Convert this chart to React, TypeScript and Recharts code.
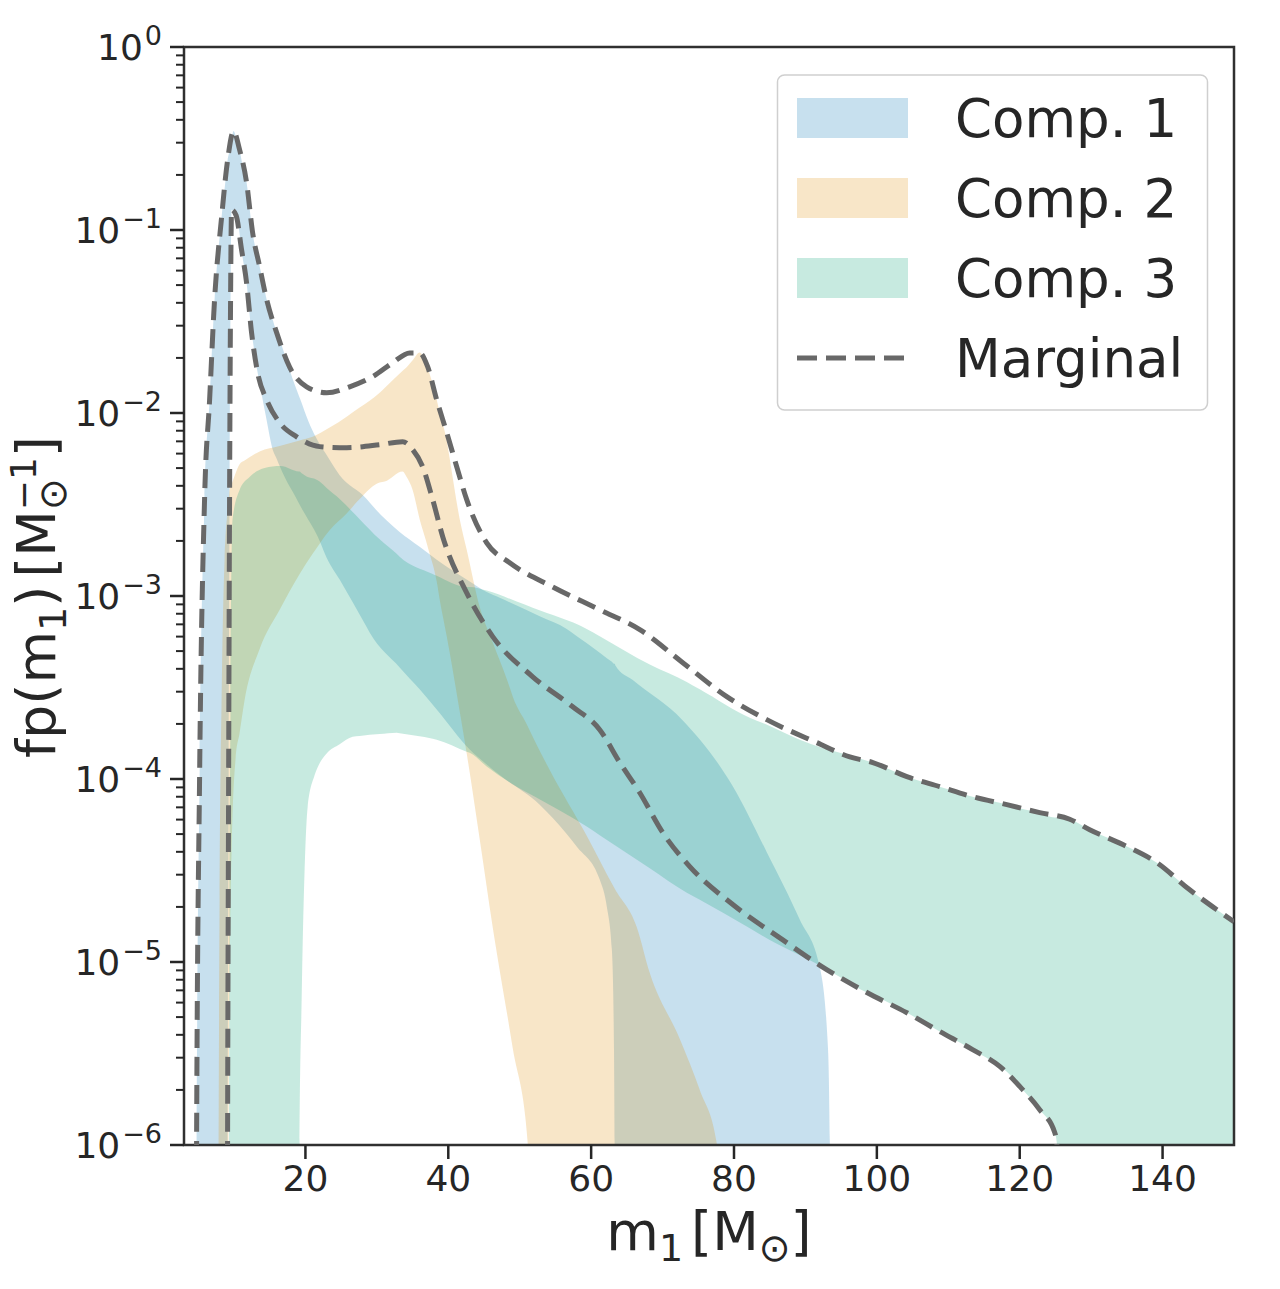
import React from "react";
import { ComposedChart, Area, Line, XAxis, YAxis, ReferenceArea } from "recharts";

const FONT = '"DejaVu Sans", "Liberation Sans", sans-serif';
const INK = "#262626";
const BLUE = "#0173b2";
const ORANGE = "#de8f05";
const TEAL = "#029e73";
const DASH = "#686868";

// m1 grids and band edges (lo / hi), one set per component
const comp1X = [4.7, 4.76, 5.18, 5.88, 6.58, 7.28, 8.26, 9.05, 9.1, 9.24, 9.38, 9.52, 9.66, 9.94, 10.5, 10.78, 11.06, 11.76, 12.46, 12.61, 13.31, 13.59, 14.15, 14.57, 15.41, 15.97, 16.39, 17.09, 18.49, 19.6, 19.89, 21.99, 22.97, 24.79, 28.57, 28.99, 33.19, 35.99, 38.38, 43.0, 45.38, 47.2, 52.8, 56.58, 58.0, 61.2, 62.2, 62.9, 63.2, 63.3, 63.4, 65.83, 72.83, 79.83, 84.59, 89.22, 92.02, 93.14, 93.42, 93.5];
const comp1Hi = [1e-7, 1e-6, 1e-4, 3.39e-3, 1.17e-2, 4.17e-2, 1.17e-1, 2.29e-1, 2.4e-1, 2.57e-1, 2.69e-1, 2.88e-1, 3.09e-1, 3.47e-1, 2.95e-1, 2.75e-1, 2.4e-1, 1.82e-1, 1.07e-1, 9.66e-2, 7.08e-2, 6.31e-2, 5.01e-2, 4.17e-2, 3.24e-2, 2.75e-2, 2.51e-2, 2.09e-2, 1.43e-2, 1.1e-2, 1.02e-2, 6.76e-3, 5.89e-3, 4.57e-3, 3.39e-3, 3.24e-3, 2.24e-3, 1.86e-3, 1.58e-3, 1.2e-3, 1.05e-3, 9.77e-4, 7.76e-4, 6.61e-4, 6.03e-4, 4.9e-4, 4.57e-4, 4.37e-4, 4.27e-4, 4.27e-4, 4.17e-4, 3.47e-4, 2.09e-4, 9.12e-5, 3.98e-5, 1.7e-5, 9.33e-6, 3.47e-6, 1.02e-6, 1e-7];
const comp1Lo = [1e-7, 1e-7, 1e-7, 1e-7, 1e-7, 1e-7, 1e-7, 1e-7, 1e-6, 7.94e-5, 3.39e-3, 4.17e-2, 1.29e-1, 1.26e-1, 1.15e-1, 9.55e-2, 7.76e-2, 5.13e-2, 2.75e-2, 2.51e-2, 1.66e-2, 1.45e-2, 1.11e-2, 9.12e-3, 6.31e-3, 5.62e-3, 5.13e-3, 4.47e-3, 3.55e-3, 2.95e-3, 2.82e-3, 2.0e-3, 1.62e-3, 1.23e-3, 6.76e-4, 6.31e-4, 4.07e-4, 3.09e-4, 2.4e-4, 1.45e-4, 1.2e-4, 1.05e-4, 7.24e-5, 5.01e-5, 4.27e-5, 2.82e-5, 2.0e-5, 1.17e-5, 3.31e-6, 1e-6, 1e-7, 1e-7, 1e-7, 1e-7, 1e-7, 1e-7, 1e-7, 1e-7, 1e-7, 1e-7];

const comp2X = [7.75, 7.84, 7.98, 8.26, 8.68, 9.18, 9.24, 9.38, 9.66, 10.22, 10.78, 11.48, 13.59, 16.39, 19.19, 21.01, 23.39, 25.77, 27.59, 30.39, 31.09, 33.61, 34.17, 35.01, 35.99, 36.97, 37.11, 38.38, 38.8, 39.78, 40.2, 41.6, 42.58, 44.4, 46.22, 48.6, 49.02, 51.12, 51.2, 54.2, 59.38, 63.31, 66.39, 68.21, 72.41, 75.21, 77.59, 77.7];
const comp2Hi = [1e-7, 1e-6, 2.19e-5, 2.69e-4, 1.58e-3, 3.02e-3, 3.16e-3, 3.8e-3, 4.07e-3, 4.68e-3, 5.25e-3, 5.5e-3, 6.17e-3, 6.61e-3, 7.08e-3, 7.41e-3, 8.32e-3, 9.55e-3, 1.07e-2, 1.29e-2, 1.37e-2, 1.7e-2, 1.78e-2, 1.94e-2, 2.14e-2, 1.82e-2, 1.76e-2, 1.18e-2, 1.0e-2, 7.08e-3, 5.62e-3, 2.63e-3, 1.79e-3, 8.71e-4, 5.58e-4, 3.16e-4, 2.82e-4, 1.94e-4, 1.91e-4, 1.12e-4, 4.9e-5, 2.51e-5, 1.55e-5, 8.71e-6, 3.8e-6, 2.0e-6, 1.02e-6, 1e-7];
const comp2Lo = [1e-7, 1e-7, 1e-7, 1e-7, 1e-7, 1e-7, 1e-6, 6.24e-6, 4.07e-5, 1.29e-4, 1.78e-4, 2.69e-4, 5.13e-4, 8.41e-4, 1.32e-3, 1.7e-3, 2.29e-3, 2.82e-3, 3.39e-3, 4.17e-3, 4.22e-3, 4.79e-3, 4.47e-3, 3.8e-3, 2.63e-3, 1.95e-3, 1.86e-3, 1.2e-3, 9.55e-4, 6.03e-4, 4.9e-4, 2.34e-4, 1.38e-4, 4.68e-5, 1.55e-5, 4.27e-6, 3.39e-6, 1.02e-6, 1e-7, 1e-7, 1e-7, 1e-7, 1e-7, 1e-7, 1e-7, 1e-7, 1e-7, 1e-7];

const comp3X = [9.25, 9.31, 9.38, 9.52, 9.8, 10.78, 12.18, 14.29, 16.53, 19.1, 19.19, 19.47, 19.89, 20.31, 21.29, 21.99, 22.97, 24.79, 26.61, 27.59, 30.39, 32.77, 33.19, 37.82, 38.38, 42.58, 43.0, 45.38, 49.58, 51.82, 59.38, 61.2, 68.21, 73.39, 75.21, 82.21, 85.01, 89.22, 92.3, 94.82, 98.6, 99.44, 104.2, 108.8, 113.4, 117.2, 118.2, 120.0, 122.8, 124.9, 125.2, 125.3, 127.0, 129.8, 134.5, 139.2, 143.8, 147.6, 150];
const comp3Hi = [1e-7, 1e-6, 2.19e-5, 2.69e-4, 2.63e-3, 3.8e-3, 4.47e-3, 5.01e-3, 5.13e-3, 4.79e-3, 4.79e-3, 4.68e-3, 4.57e-3, 4.47e-3, 4.37e-3, 4.22e-3, 3.89e-3, 3.39e-3, 2.88e-3, 2.63e-3, 2.04e-3, 1.7e-3, 1.64e-3, 1.32e-3, 1.29e-3, 1.12e-3, 1.12e-3, 1.07e-3, 9.33e-4, 8.63e-4, 6.61e-4, 6.03e-4, 4.22e-4, 3.39e-4, 3.09e-4, 2.16e-4, 1.95e-4, 1.64e-4, 1.48e-4, 1.39e-4, 1.26e-4, 1.23e-4, 1.03e-4, 9.08e-5, 8.0e-5, 7.41e-5, 7.24e-5, 6.92e-5, 6.55e-5, 6.17e-5, 6.17e-5, 6.17e-5, 6.03e-5, 5.28e-5, 4.37e-5, 3.49e-5, 2.48e-5, 1.93e-5, 1.66e-5];
const comp3Lo = [1e-7, 1e-7, 1e-7, 1e-7, 1e-7, 1e-7, 1e-7, 1e-7, 1e-7, 1e-7, 1e-6, 6.24e-6, 3.24e-5, 7.0e-5, 1.05e-4, 1.22e-4, 1.38e-4, 1.55e-4, 1.7e-4, 1.72e-4, 1.76e-4, 1.79e-4, 1.78e-4, 1.66e-4, 1.64e-4, 1.41e-4, 1.39e-4, 1.17e-4, 9.08e-5, 8.13e-5, 5.5e-5, 4.93e-5, 3.25e-5, 2.39e-5, 2.19e-5, 1.53e-5, 1.32e-5, 1.09e-5, 9.44e-6, 8.28e-6, 6.81e-6, 6.61e-6, 5.28e-6, 4.17e-6, 3.32e-6, 2.69e-6, 2.51e-6, 2.09e-6, 1.56e-6, 1.17e-6, 1.02e-6, 1e-7, 1e-7, 1e-7, 1e-7, 1e-7, 1e-7, 1e-7, 1e-7];

// marginal band, drawn as two dashed edges
const margHiX = [4.7, 4.76, 5.18, 5.88, 6.58, 7.28, 8.26, 9.1, 9.94, 10.78, 11.76, 12.61, 13.59, 14.57, 15.97, 17.79, 20.17, 22.97, 26.19, 29.41, 32.21, 34.59, 35.99, 37.11, 38.38, 39.78, 41.18, 42.58, 45.38, 48.6, 54.62, 61.2, 66.81, 72.83, 78.99, 84.59, 91.6, 96.22, 99.44, 104.2, 108.8, 113.4, 118.2, 122.8, 127.0, 129.8, 134.5, 139.2, 143.8, 147.6, 150];
const margHiY = [1e-7, 1e-6, 1e-4, 3.39e-3, 1.17e-2, 4.17e-2, 1.17e-1, 2.4e-1, 3.47e-1, 2.75e-1, 1.82e-1, 9.66e-2, 6.31e-2, 4.17e-2, 2.75e-2, 1.78e-2, 1.39e-2, 1.29e-2, 1.39e-2, 1.58e-2, 1.88e-2, 2.13e-2, 2.13e-2, 1.79e-2, 1.18e-2, 7.82e-3, 5.09e-3, 3.36e-3, 1.95e-3, 1.52e-3, 1.12e-3, 8.41e-4, 6.55e-4, 4.32e-4, 2.82e-4, 2.11e-4, 1.58e-4, 1.32e-4, 1.23e-4, 1.03e-4, 9.08e-5, 8.0e-5, 7.24e-5, 6.55e-5, 6.03e-5, 5.28e-5, 4.37e-5, 3.49e-5, 2.48e-5, 1.93e-5, 1.66e-5];
const margLoX = [9.05, 9.1, 9.24, 9.38, 9.52, 9.66, 10.3, 11.06, 11.76, 12.46, 13.31, 14.57, 16.39, 18.77, 21.99, 25.77, 30.39, 33.61, 35.01, 36.41, 37.82, 39.22, 42.58, 46.22, 51.82, 57.42, 61.2, 64.01, 66.81, 70.03, 73.81, 79.83, 86.83, 92.3, 98.6, 104.2, 108.8, 113.4, 117.2, 120.0, 122.8, 124.9, 125.2, 125.3];
const margLoY = [1e-7, 1e-6, 7.94e-5, 3.39e-3, 4.17e-2, 1.29e-1, 1.2e-1, 7.8e-2, 5.15e-2, 2.75e-2, 1.66e-2, 1.18e-2, 8.85e-3, 7.41e-3, 6.55e-3, 6.46e-3, 6.71e-3, 6.97e-3, 6.31e-3, 5.09e-3, 3.36e-3, 2.11e-3, 1.04e-3, 6.0e-4, 3.62e-4, 2.48e-4, 1.86e-4, 1.23e-4, 8.41e-5, 5.09e-5, 3.32e-5, 2.06e-5, 1.32e-5, 9.44e-6, 6.81e-6, 5.28e-6, 4.17e-6, 3.32e-6, 2.69e-6, 2.09e-6, 1.56e-6, 1.17e-6, 1.02e-6, 1e-7];

const xTicks = [20, 40, 60, 80, 100, 120, 140];
const yMajorTicks = [1e-6, 1e-5, 1e-4, 1e-3, 1e-2, 1e-1, 1];
const yExponents = ["\u22126", "\u22125", "\u22124", "\u22123", "\u22122", "\u22121", "0"];
const yMinorMantissas = [2, 3, 4, 5, 6, 7, 8, 9];

const legendItems = [
  { name: "Comp. 1", color: BLUE },
  { name: "Comp. 2", color: ORANGE },
  { name: "Comp. 3", color: TEAL },
];

const bandData = (xs: number[], lo: number[], hi: number[]) =>
  xs.map((x, i) => ({ x, band: [lo[i], hi[i]] }));
const lineData = (xs: number[], ys: number[]) => xs.map((x, i) => ({ x, y: ys[i] }));

const comp1 = bandData(comp1X, comp1Lo, comp1Hi);
const comp2 = bandData(comp2X, comp2Lo, comp2Hi);
const comp3 = bandData(comp3X, comp3Lo, comp3Hi);
const margUpper = lineData(margHiX, margHiY);
const margLower = lineData(margLoX, margLoY);

const yTicks = [
  ...yMajorTicks,
  ...yMajorTicks.slice(0, -1).flatMap((d) => yMinorMantissas.map((m) => m * d)),
].sort((a, b) => a - b);

const W = 1280;
const H = 1289;
const TICK_LEN = 14;
const TICK_GAP = 8;
const FILL_ALPHA = 0.22;

function LogTick(props: any) {
  const { x, y, payload } = props;
  const v = payload.value as number;
  const idx = yMajorTicks.findIndex((t) => Math.abs(t - v) / t < 1e-6);
  const axisX = x + TICK_LEN + TICK_GAP;
  if (idx < 0) {
    return <line x1={axisX - 8} x2={axisX} y1={y} y2={y} stroke={INK} strokeWidth={2} />;
  }
  return (
    <g>
      <line x1={axisX - TICK_LEN} x2={axisX} y1={y} y2={y} stroke={INK} strokeWidth={2.5} />
      <text x={x} y={y + 13} textAnchor="end" fontSize={36} fill={INK} fontFamily={FONT}>
        10
        <tspan dx={2} dy={-15} fontSize={27}>
          {yExponents[idx]}
        </tspan>
      </text>
    </g>
  );
}

export default function App() {
  return (
    <div style={{ position: "absolute", left: 0, top: 0, width: W, height: H, background: "#fff" }}>
      <ComposedChart width={W} height={H} margin={{ top: 47, right: 46, bottom: 0, left: 0 }}>
        <XAxis
          type="number"
          dataKey="x"
          domain={[3, 150]}
          allowDataOverflow
          ticks={xTicks}
          interval={0}
          height={144}
          tickSize={TICK_LEN}
          tickMargin={6}
          axisLine={false}
          tickLine={{ stroke: INK, strokeWidth: 2.5 }}
          tick={{ fontSize: 36, fill: INK, fontFamily: FONT }}
        />
        <YAxis
          type="number"
          scale="log"
          domain={[1e-6, 1]}
          allowDataOverflow
          ticks={yTicks}
          interval={0}
          width={184}
          tickSize={TICK_LEN}
          tickMargin={TICK_GAP}
          axisLine={false}
          tickLine={false}
          tick={<LogTick />}
        />
        <Area data={comp1} dataKey="band" type="monotone" fill={BLUE} fillOpacity={FILL_ALPHA} stroke="none" dot={false} activeDot={false} isAnimationActive={false} />
        <Area data={comp2} dataKey="band" type="monotone" fill={ORANGE} fillOpacity={FILL_ALPHA} stroke="none" dot={false} activeDot={false} isAnimationActive={false} />
        <Area data={comp3} dataKey="band" type="monotone" fill={TEAL} fillOpacity={FILL_ALPHA} stroke="none" dot={false} activeDot={false} isAnimationActive={false} />
        <Line data={margUpper} dataKey="y" type="monotone" stroke={DASH} strokeWidth={5} strokeDasharray="19 9" dot={false} activeDot={false} isAnimationActive={false} />
        <Line data={margLower} dataKey="y" type="monotone" stroke={DASH} strokeWidth={5} strokeDasharray="19 9" dot={false} activeDot={false} isAnimationActive={false} />
        <ReferenceArea x1={3} x2={150} y1={1e-6} y2={1} fill="none" stroke="#303030" strokeWidth={2.5} ifOverflow="visible" />
      </ComposedChart>

      <svg width={W} height={H} style={{ position: "absolute", left: 0, top: 0, pointerEvents: "none" }} fontFamily={FONT}>
        {/* axis labels */}
        <text x={709} y={1250} textAnchor="middle" fontSize={54} fill={INK}>
          m
          <tspan dy={11} fontSize={38}>1</tspan>
          <tspan dx={8} dy={-11}>[M</tspan>
          <tspan dy={11} fontSize={38}>{"\u2299"}</tspan>
          <tspan dy={-11}>]</tspan>
        </text>
        <text transform="translate(55,597) rotate(-90)" textAnchor="middle" fontSize={54} fill={INK}>
          fp(m
          <tspan dy={11} fontSize={38}>1</tspan>
          <tspan dy={-11}>)</tspan>
          <tspan dx={8}>[M</tspan>
          <tspan dy={11} fontSize={38}>{"\u2299"}</tspan>
          <tspan dx={-32} dy={-30} fontSize={36}>{"\u22121"}</tspan>
          <tspan dy={19}>]</tspan>
        </text>

        {/* legend */}
        <rect x={777.5} y={75} width={430} height={335} rx={7} fill="#fff" fillOpacity={0.85} stroke="#cfcfcf" strokeWidth={1.5} />
        {legendItems.map((item, i) => (
          <g key={item.name}>
            <rect x={797} y={98 + i * 80} width={111} height={40} fill={item.color} fillOpacity={FILL_ALPHA} />
            <text x={955} y={137 + i * 80} fontSize={53} fill={INK}>
              {item.name}
            </text>
          </g>
        ))}
        <line x1={797} x2={908} y1={358} y2={358} stroke={DASH} strokeWidth={5} strokeDasharray="20 9" />
        <text x={955} y={377} fontSize={53} fill={INK}>
          Marginal
        </text>
      </svg>
    </div>
  );
}
